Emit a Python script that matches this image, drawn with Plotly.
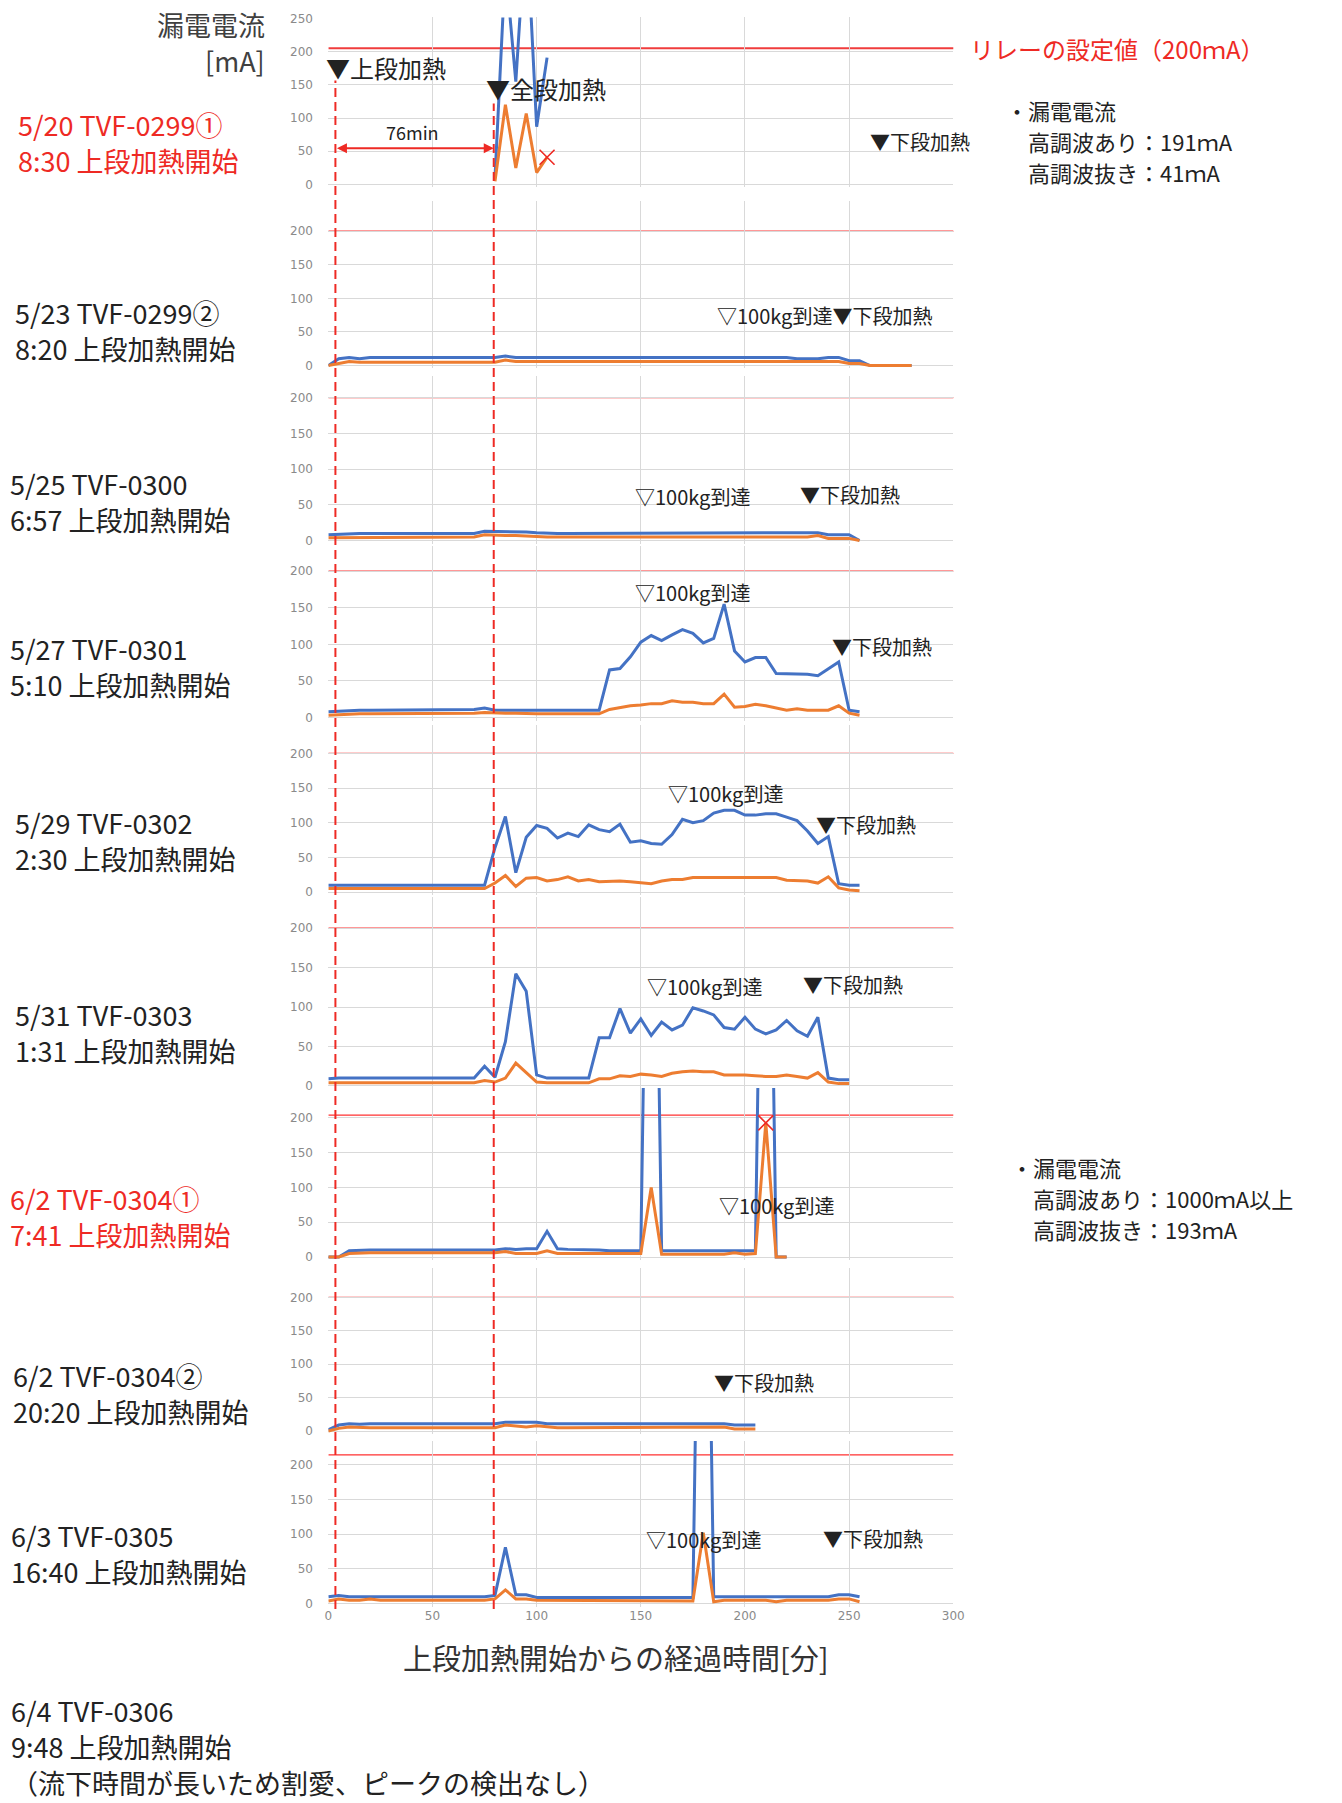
import plotly.graph_objects as go

W, H = 1342, 1803

BLUE = "#4472c4"
ORANGE = "#ed7d31"
RED = "#ee2a24"
GRID = "#d9d9d9"
TXT = "#222222"
JP = "Noto Sans CJK JP"

# ---------------- leakage current [mA], 5-minute samples ----------------
# 高調波あり (blue) / 高調波抜き (orange)

# 5/20 TVF-0299① (relay trip)
t_0520 = [80, 85, 90, 95, 100, 105]
harm_0520 = [10, 330, 155, 400, 87, 191]
filt_0520 = [5, 120, 25, 107, 18, 41]

# 5/23 TVF-0299②
t_0523 = list(range(0, 281, 5))
harm_0523 = [0, 10, 12, 10, 12, 12, 12, 12, 12, 12,
             12, 12, 12, 12, 12, 12, 12, 14, 12, 12,
             12, 12, 12, 12, 12, 12, 12, 12, 12, 12,
             12, 12, 12, 12, 12, 12, 12, 12, 12, 12,
             12, 12, 12, 12, 12, 10, 10, 10, 12, 12,
             7, 7, 0, 0, 0, 0, 0]
filt_0523 = [0, 3, 6, 5, 5, 5, 5, 5, 5, 5,
             5, 5, 5, 5, 5, 5, 5, 8, 6, 6,
             6, 5, 5, 5, 5, 5, 5, 5, 5, 5,
             5, 5, 5, 5, 5, 5, 5, 5, 5, 5,
             5, 5, 5, 5, 5, 5, 5, 5, 6, 6,
             3, 3, 0, 0, 0, 0, 0]

# 5/25 TVF-0300
t_0525 = list(range(0, 256, 5))
harm_0525 = [8, 9, 10, 10, 10, 10, 10, 10, 10, 10,
             10, 10, 10, 10, 10, 13, 13, 12, 13, 12,
             11, 10, 10, 10, 10, 10, 10, 10, 10, 10,
             10, 10, 10, 10, 10, 10, 10, 10, 10, 10,
             10, 10, 10, 10, 10, 10, 10, 11, 8, 8,
             8, 0]
filt_0525 = [4, 4, 5, 5, 5, 5, 5, 5, 5, 5,
             5, 5, 5, 5, 5, 8, 7, 7, 7, 6,
             6, 5, 5, 5, 5, 5, 5, 5, 5, 5,
             5, 5, 5, 5, 5, 5, 5, 5, 5, 5,
             5, 5, 5, 5, 5, 5, 5, 7, 3, 3,
             3, 0]

# 5/27 TVF-0301
t_0527 = list(range(0, 256, 5))
harm_0527 = [8, 9, 10, 10, 10, 10, 10, 10, 10, 10,
             10, 10, 10, 10, 11, 13, 10, 10, 10, 10,
             10, 10, 10, 10, 10, 10, 10, 65, 67, 83,
             103, 112, 105, 113, 120, 115, 102, 108, 155, 91,
             76, 82, 82, 60, 60, 60, 59, 57, 66, 76,
             10, 8]
filt_0527 = [3, 4, 5, 5, 5, 5, 5, 5, 5, 5,
             5, 5, 5, 5, 6, 7, 6, 6, 6, 5,
             5, 5, 5, 5, 5, 5, 5, 11, 14, 16,
             17, 19, 19, 23, 21, 21, 19, 19, 32, 14,
             15, 18, 16, 13, 10, 12, 10, 10, 10, 16,
             6, 3]

# 5/29 TVF-0302
t_0529 = list(range(0, 256, 5))
harm_0529 = [10, 10, 10, 10, 10, 10, 10, 10, 10, 10,
             10, 10, 10, 10, 10, 10, 64, 109, 28, 79,
             96, 92, 78, 85, 80, 97, 90, 87, 98, 72,
             74, 70, 69, 83, 105, 100, 103, 114, 118, 118,
             111, 111, 113, 113, 108, 103, 88, 70, 80, 12,
             10, 10]
filt_0529 = [5, 5, 5, 5, 5, 5, 5, 5, 5, 5,
             5, 5, 5, 5, 5, 5, 13, 24, 8, 20,
             21, 16, 18, 22, 16, 18, 15, 16, 16, 15,
             14, 12, 16, 18, 18, 21, 21, 21, 21, 21,
             21, 21, 21, 21, 17, 16, 16, 13, 22, 6,
             3, 2]

# 5/31 TVF-0303
t_0531 = list(range(0, 251, 5))
harm_0531 = [9, 10, 10, 10, 10, 10, 10, 10, 10, 10,
             10, 10, 10, 10, 10, 25, 11, 56, 142, 120,
             14, 10, 10, 10, 10, 10, 61, 61, 98, 67,
             85, 64, 81, 71, 77, 99, 95, 90, 74, 72,
             87, 72, 66, 71, 83, 70, 63, 87, 10, 8,
             8]
filt_0531 = [4, 4, 4, 4, 4, 4, 4, 4, 4, 4,
             4, 4, 4, 4, 4, 7, 5, 10, 29, 17,
             5, 4, 4, 4, 4, 4, 9, 9, 13, 12,
             15, 14, 12, 16, 18, 19, 18, 18, 14, 14,
             14, 13, 12, 12, 14, 12, 10, 17, 5, 3,
             3]

# 6/2 TVF-0304① (relay trip)
t_0602a = list(range(0, 221, 5))
harm_0602a = [0, 0, 9, 10, 10, 10, 10, 10, 10, 10,
              10, 10, 10, 10, 10, 10, 10, 12, 11, 12,
              12, 37, 12, 11, 11, 10, 10, 9, 9, 9,
              9, 1000, 9, 9, 9, 9, 9, 9, 9, 9,
              9, 9, 1000, 0, 0]
filt_0602a = [0, 0, 5, 6, 6, 6, 6, 6, 6, 6,
              6, 6, 6, 6, 6, 6, 6, 8, 5, 5,
              5, 9, 5, 5, 5, 5, 5, 5, 5, 5,
              5, 100, 4, 4, 4, 4, 4, 4, 4, 6,
              4, 5, 193, 0, 0]

# 6/2 TVF-0304②
t_0602b = list(range(0, 206, 5))
harm_0602b = [2, 9, 11, 10, 11, 11, 11, 11, 11, 11,
              11, 11, 11, 11, 11, 11, 11, 13, 13, 13,
              13, 11, 11, 11, 11, 11, 11, 10, 10, 10,
              10, 10, 10, 10, 10, 10, 10, 11, 11, 9,
              9, 9]
filt_0602b = [0, 4, 6, 5, 5, 5, 5, 5, 5, 5,
              5, 5, 5, 5, 5, 5, 5, 9, 7, 6,
              8, 6, 5, 5, 5, 5, 5, 5, 5, 5,
              5, 5, 5, 5, 5, 5, 5, 5, 6, 3,
              3, 3]

# 6/3 TVF-0305
t_0603 = list(range(0, 256, 5))
harm_0603 = [10, 12, 10, 10, 10, 10, 10, 10, 10, 10,
             10, 10, 10, 10, 10, 10, 12, 81, 13, 13,
             9, 9, 9, 9, 9, 9, 9, 9, 9, 9,
             9, 9, 9, 9, 9, 9, 1000, 10, 10, 10,
             10, 10, 10, 10, 10, 10, 10, 10, 10, 13,
             13, 10]
filt_0603 = [4, 7, 5, 5, 7, 5, 5, 5, 5, 5,
             5, 5, 5, 5, 5, 5, 7, 20, 7, 7,
             5, 5, 5, 5, 5, 5, 5, 5, 5, 5,
             5, 5, 5, 5, 5, 4, 102, 3, 5, 5,
             5, 4, 5, 3, 5, 5, 5, 5, 5, 7,
             7, 3]

# relay trip points (panel, minute, 高調波抜き mA)
trip_panel = [1, 7]
trip_t = [105, 210]
trip_ma = [41, 193]

# relay setting line level drawn on each panel
relay_line_y = [205, 200, 200, 200, 200, 200, 204, 200, 214]
relay_line_x1 = [303, 301, 301, 301, 303, 301, 301, 301, 303]

# upper-stage heating start / all-stage heating
heat_start_t = 3.4
all_stage_t = 79.4

series = [
    (t_0520, harm_0520, filt_0520),
    (t_0523, harm_0523, filt_0523),
    (t_0525, harm_0525, filt_0525),
    (t_0527, harm_0527, filt_0527),
    (t_0529, harm_0529, filt_0529),
    (t_0531, harm_0531, filt_0531),
    (t_0602a, harm_0602a, filt_0602a),
    (t_0602b, harm_0602b, filt_0602b),
    (t_0603, harm_0603, filt_0603),
]

# ---------------- panel geometry (pixels) ----------------
X0_PX, X1_PX = 328, 960
zero_px = [179.5, 361.5, 537.5, 715.5, 891.0, 1086.0, 1258.0, 1433.0, 1606.7]
per50_px = [33.4, 33.75, 35.9, 36.8, 34.85, 39.7, 34.95, 33.6, 35.0]
top_px = [11.5, 196, 372, 543, 723, 896, 1088, 1269, 1443]

TEXT_SHIFT = 4  # lift CJK labels so glyphs sit centred on their anchor


def ax_names(n):
    return (("x", "y") if n == 1 else (f"x{n}", f"y{n}"))


fig = go.Figure()
layout_axes = {}
shapes = []
annotations = []

for i, (t, harm, filt) in enumerate(series):
    n = i + 1
    xr, yr = ax_names(n)
    xa = "xaxis" if n == 1 else f"xaxis{n}"
    ya = "yaxis" if n == 1 else f"yaxis{n}"
    ytop = (zero_px[i] - top_px[i]) / per50_px[i] * 50
    ybot = -3 / per50_px[i] * 50
    yticks = [0, 50, 100, 150, 200, 250] if n == 1 else [0, 50, 100, 150, 200]

    layout_axes[xa] = dict(
        domain=[X0_PX / W, X1_PX / W], range=[0, 300], anchor=yr,
        tickvals=[0, 50, 100, 150, 200, 250, 300],
        showgrid=True, gridcolor=GRID, gridwidth=1, zeroline=False,
        showline=False, showticklabels=(n == 9), ticks="",
        tickfont=dict(size=12, color="#8a8a8a", family="DejaVu Sans"),
        fixedrange=True,
    )
    layout_axes[ya] = dict(
        domain=[1 - (zero_px[i] + 3) / H, 1 - top_px[i] / H],
        range=[ybot, ytop], anchor=xr, tickvals=yticks,
        showgrid=True, gridcolor=GRID, gridwidth=1, zeroline=False,
        showline=False, ticks="outside", ticklen=12,
        tickcolor="rgba(0,0,0,0)",
        tickfont=dict(size=12, color="#8a8a8a", family="DejaVu Sans"),
        fixedrange=True,
    )

    fig.add_trace(go.Scatter(x=t, y=harm, xaxis=xr, yaxis=yr, mode="lines",
                             line=dict(color=BLUE, width=3),
                             showlegend=False, hoverinfo="skip"))
    fig.add_trace(go.Scatter(x=t, y=filt, xaxis=xr, yaxis=yr, mode="lines",
                             line=dict(color=ORANGE, width=3),
                             showlegend=False, hoverinfo="skip"))

    # relay setting line
    shapes.append(dict(type="line", xref=xr, yref=yr, x0=0, x1=relay_line_x1[i],
                       y0=relay_line_y[i], y1=relay_line_y[i],
                       line=dict(color="#f03c3c" if n == 1 else "#ff3030",
                                 width=2 if n == 1 else 1.3),
                       layer="below"))

# trip markers
for p, tt, mv in zip(trip_panel, trip_t, trip_ma):
    xr, yr = ax_names(p)
    fig.add_trace(go.Scatter(x=[tt], y=[mv], xaxis=xr, yaxis=yr, mode="markers",
                             marker=dict(symbol="x-thin-open", size=15, color=RED,
                                         line=dict(color=RED, width=1.6)),
                             showlegend=False, hoverinfo="skip"))

# dashed reference lines spanning all panels
for xv, ytop_px in [(heat_start_t, 75), (all_stage_t, 98)]:
    shapes.append(dict(type="line", xref="x", yref="paper", x0=xv, x1=xv,
                       y0=1 - 1612 / H, y1=1 - ytop_px / H,
                       line=dict(color=RED, width=2, dash="9px,5px"), layer="above"))

# 76 min double arrow
annotations.append(dict(x=all_stage_t, y=54.5, ax=heat_start_t, ay=54.5,
                        xref="x", yref="y", axref="x", ayref="y", text="",
                        showarrow=True, arrowhead=2, startarrowhead=2,
                        arrowside="end+start", arrowsize=1, startarrowsize=1,
                        arrowwidth=2, arrowcolor=RED))
annotations.append(dict(x=40.5, y=73, xref="x", yref="y", text="76min",
                        showarrow=False, xanchor="center", yanchor="middle",
                        yshift=TEXT_SHIFT,
                        font=dict(family=JP, size=18, color=TXT)))

# event labels inside panels: (panel, text, minute, mA, size)
events = [
    (1, "▼全段加熱", 74.5, 139, 24),
    (1, "▼下段加熱", 259.2, 59, 20),
    (2, "▽100kg到達▼下段加熱", 185.6, 69, 20),
    (3, "▽100kg到達", 146.2, 56, 20),
    (3, "▼下段加熱", 225.7, 59, 20),
    (4, "▽100kg到達", 146.2, 166, 20),
    (4, "▼下段加熱", 240.7, 92, 20),
    (5, "▽100kg到達", 162.3, 137, 20),
    (5, "▼下段加熱", 233.0, 91, 20),
    (6, "▽100kg到達", 151.9, 121, 20),
    (6, "▼下段加熱", 226.7, 123, 20),
    (7, "▽100kg到達", 186.5, 69, 20),
    (8, "▼下段加熱", 184.2, 67, 20),
    (9, "▽100kg到達", 151.4, 87, 20),
    (9, "▼下段加熱", 236.4, 88, 20),
]
for p, txt, xv, yv, sz in events:
    xr, yr = ax_names(p)
    annotations.append(dict(x=xv, y=yv, xref=xr, yref=yr, text=txt, showarrow=False,
                            xanchor="left", yanchor="middle", yshift=TEXT_SHIFT,
                            font=dict(family=JP, size=sz, color=TXT)))


def page_text(txt, xpx, ypx, size, color, anchor="left"):
    annotations.append(dict(x=xpx / W, y=1 - ypx / H, xref="paper", yref="paper",
                            text=txt, showarrow=False, xanchor=anchor, align=anchor,
                            yanchor="middle", yshift=TEXT_SHIFT,
                            font=dict(family=JP, size=size, color=color)))


# upper-stage heating marker sits left of the axis, so place it on the page
page_text("▼上段加熱", 324, 66, 24, TXT)

# run labels on the left: (line 1, line 2, x px, centre y px, colour)
run_labels = [
    ("5/20 TVF-0299①", "8:30 上段加熱開始", 12, 141, RED),
    ("5/23 TVF-0299②", "8:20 上段加熱開始", 9, 330, TXT),
    ("5/25 TVF-0300", "6:57 上段加熱開始", 4, 502, TXT),
    ("5/27 TVF-0301", "5:10 上段加熱開始", 4, 668, TXT),
    ("5/29 TVF-0302", "2:30 上段加熱開始", 9, 843, TXT),
    ("5/31 TVF-0303", "1:31 上段加熱開始", 9, 1036, TXT),
    ("6/2 TVF-0304①", "7:41 上段加熱開始", 4, 1221, RED),
    ("6/2 TVF-0304②", "20:20 上段加熱開始", 7, 1399, TXT),
    ("6/3 TVF-0305", "16:40 上段加熱開始", 5, 1560, TXT),
]
LINE_GAP = 36
for l1, l2, xpx, yc, col in run_labels:
    page_text(l1, xpx, yc - LINE_GAP / 2, 27, col)
    page_text(l2, xpx, yc + LINE_GAP / 2, 27, col)

page_text("6/4 TVF-0306", 5, 1718, 27, TXT)
page_text("9:48 上段加熱開始", 5, 1754, 27, TXT)
page_text("（流下時間が長いため割愛、ピークの検出なし）", 5, 1790, 27, TXT)

# y-axis title
page_text("漏電電流", 266, 23, 27, "#404040", anchor="right")
page_text("[mA]", 266, 59, 27, "#404040", anchor="right")

# x-axis title
page_text("上段加熱開始からの経過時間[分]", 619, 1664, 29, "#333333", anchor="center")

# notes on the right
NOTE_SIZE = 22
NOTE_GAP = 31
page_text("リレーの設定値（200ｍA）", 975, 47, 24, RED)
page_text("・漏電電流", 1011, 109, NOTE_SIZE, TXT)
page_text("高調波あり：191ｍA", 1034, 109 + NOTE_GAP, NOTE_SIZE, TXT)
page_text("高調波抜き：41ｍA", 1034, 109 + 2 * NOTE_GAP, NOTE_SIZE, TXT)
page_text("・漏電電流", 1016, 1172, NOTE_SIZE, TXT)
page_text("高調波あり：1000ｍA以上", 1039, 1172 + NOTE_GAP, NOTE_SIZE, TXT)
page_text("高調波抜き：193ｍA", 1039, 1172 + 2 * NOTE_GAP, NOTE_SIZE, TXT)

fig.update_layout(
    width=W, height=H, autosize=False,
    margin=dict(l=0, r=0, t=0, b=0),
    paper_bgcolor="white", plot_bgcolor="white",
    showlegend=False,
    shapes=shapes, annotations=annotations,
    **layout_axes,
)

fig.write_html("out.html")
